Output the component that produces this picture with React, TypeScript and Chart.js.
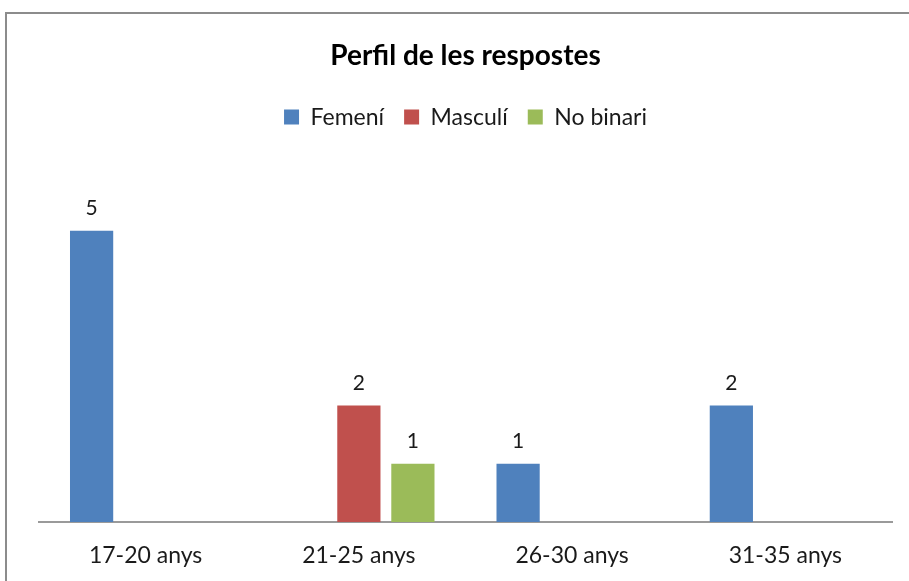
import React, { useEffect, useRef } from "react";
import { Chart, registerables } from "chart.js";

Chart.register(...registerables);

const categories = ["17-20 anys", "21-25 anys", "26-30 anys", "31-35 anys"];
const femeni: (number | null)[] = [5, null, 1, 2];
const masculi: (number | null)[] = [null, 2, null, null];
const noBinari: (number | null)[] = [null, 1, null, null];
const seriesNames = ["Femení", "Masculí", "No binari"];
const colors = ["#4F81BD", "#C0504D", "#9BBB59"];
const titleText = "Perfil de les respostes";

const FONT = "Lato, 'Liberation Sans', sans-serif";

const valueLabels = {
  id: "valueLabels",
  afterDatasetsDraw(chart: any) {
    const ctx = chart.ctx;
    ctx.save();
    ctx.font = `21px ${FONT}`;
    ctx.fillStyle = "#1a1a1a";
    ctx.textAlign = "center";
    ctx.textBaseline = "bottom";
    chart.data.datasets.forEach((ds: any, i: number) => {
      const meta = chart.getDatasetMeta(i);
      meta.data.forEach((el: any, j: number) => {
        const v = ds.data[j];
        if (v === null || v === undefined) return;
        ctx.fillText(String(v), el.x, el.y - 12);
      });
    });
    ctx.restore();
  },
};

const legendMargin = {
  id: "legendMargin",
  beforeInit(chart: any) {
    const legend = chart.legend;
    if (!legend) return;
    const orig = legend.fit;
    legend.fit = function () {
      orig.call(this);
      this.height += 34;
    };
  },
};

export default function App() {
  const ref = useRef<HTMLCanvasElement>(null);
  useEffect(() => {
    if (!ref.current) return;
    const chart = new Chart(ref.current, {
      type: "bar",
      data: {
        labels: categories,
        datasets: [femeni, masculi, noBinari].map((d, i) => ({
          label: seriesNames[i],
          data: d,
          backgroundColor: colors[i],
          borderWidth: 0,
          categoryPercentage: 0.76,
          barPercentage: 0.8,
        })),
      },
      options: {
        animation: false,
        responsive: false,
        layout: { padding: { left: 39, right: 17, top: 0, bottom: 0 } },
        plugins: {
          title: {
            display: true,
            text: titleText,
            fullSize: false,
            color: "#000",
            font: { family: FONT, size: 28, weight: "bold" },
            padding: { top: 39, bottom: 13 },
          },
          legend: {
            display: true,
            fullSize: false,
            labels: {
              color: "#1a1a1a",
              font: { family: FONT, size: 23 },
              boxWidth: 15,
              boxHeight: 15,
              padding: 20,
            },
          },
          tooltip: { enabled: false },
        },
        scales: {
          x: {
            grid: { display: false, drawTicks: false },
            border: { display: true, color: "#9a9a9a", width: 2 },
            ticks: {
              color: "#1a1a1a",
              font: { family: FONT, size: 23 },
              padding: 20,
            },
            afterFit(scale: any) {
              scale.height = 59;
            },
          },
          y: {
            display: false,
            min: 0,
            max: 6,
          },
        },
      },
      plugins: [valueLabels, legendMargin],
    });
    return () => chart.destroy();
  }, []);

  return (
    <div style={{ position: "fixed", left: 0, top: 0, width: 909, height: 581, overflow: "hidden", background: "#fff" }}>
      <div
        style={{
          position: "absolute",
          left: 5,
          top: 12,
          width: 940,
          height: 620,
          border: "2px solid #8c8c8c",
          boxSizing: "border-box",
        }}
      />
      <canvas ref={ref} width={909} height={581} style={{ position: "absolute", left: 0, top: 0 }} />
    </div>
  );
}
